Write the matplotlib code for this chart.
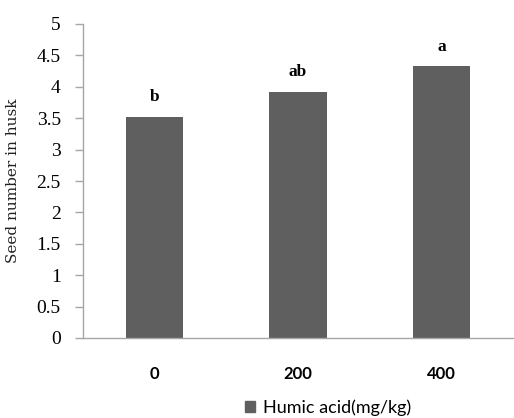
import numpy as np
import matplotlib
matplotlib.use('Agg')
import matplotlib.pyplot as plt
from matplotlib.patches import Patch

# data
doses = ['0', '200', '400']
seed_number = [3.52, 3.92, 4.33]
letters = ['b', 'ab', 'a']
yticks = [0, 0.5, 1, 1.5, 2, 2.5, 3, 3.5, 4, 4.5, 5]

bar_color = '#5f5f5f'
axis_color = '#a6a6a6'

fig = plt.figure(figsize=(5.14, 4.18), dpi=100)
ax = fig.add_axes([83/514, 80/418, 430/514, 314/418])

x = np.arange(len(doses))
ax.bar(x, seed_number, width=0.4, color=bar_color, zorder=2)

for xi, v, lab in zip(x, seed_number, letters):
    ax.annotate(lab, (xi, v), xytext=(0, 14), textcoords='offset points',
                ha='center', va='center', fontsize=12.5, fontweight='bold',
                family='Liberation Serif')

ax.set_xlim(-0.5, 2.5)
ax.set_ylim(0, 5)
ax.set_yticks(yticks)
ax.set_yticklabels([('%g' % t) for t in yticks], family='Liberation Serif', fontsize=14)
ax.set_xticks(x)
ax.set_xticklabels(doses, family='Lato', fontsize=12, fontweight='bold')
ax.tick_params(axis='x', length=0, pad=20)
ax.tick_params(axis='y', length=6, color=axis_color, pad=10, width=1)

for s in ['top', 'right']:
    ax.spines[s].set_visible(False)
for s in ['left', 'bottom']:
    ax.spines[s].set_color(axis_color)
    ax.spines[s].set_linewidth(1)

ax.set_ylabel('Seed number in husk', family='DejaVu Serif', fontsize=11,
              labelpad=12, color='#222222')

fig.legend(handles=[Patch(color=bar_color, label='Humic acid(mg/kg)')],
           loc='center', bbox_to_anchor=(328/514, 1 - 408/418), frameon=False,
           prop={'family': 'Lato', 'size': 13}, handlelength=0.55, handleheight=0.55,
           handletextpad=0.4)

fig.savefig('out.png', dpi=100)
